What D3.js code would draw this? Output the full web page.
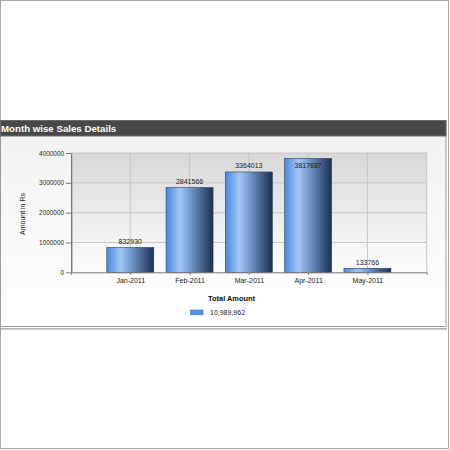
<!DOCTYPE html>
<html>
<head>
<meta charset="utf-8">
<script src="https://cdn.jsdelivr.net/npm/d3@7"></script>
<style>
  body { margin: 0; background: #fff; }
  svg { display: block; font-family: "Liberation Sans", Arial, sans-serif; }
</style>
</head>
<body>
<svg id="chart" width="450" height="450"></svg>
<script>
const months = ['Jan-2011', 'Feb-2011', 'Mar-2011', 'Apr-2011', 'May-2011'];
const amounts = [832930, 2841566, 3364013, 3817687, 133766];
const yTicks = [0, 1000000, 2000000, 3000000, 4000000];
const chartTitle = 'Month wise Sales Details';
const yLabel = 'Amount in Rs';
const legendTitle = 'Total Amount';
const legendValue = '10,989,962';

const svg = d3.select('#chart');
const defs = svg.append('defs');

const panelGrad = defs.append('linearGradient').attr('id', 'panel-bg').attr('x1', 0).attr('y1', 0).attr('x2', 0).attr('y2', 1);
panelGrad.append('stop').attr('offset', '0%').attr('stop-color', '#f1f1f1');
panelGrad.append('stop').attr('offset', '100%').attr('stop-color', '#ffffff');

const plotGrad = defs.append('linearGradient').attr('id', 'plot-bg').attr('x1', 0).attr('y1', 0).attr('x2', 0).attr('y2', 1);
plotGrad.append('stop').attr('offset', '0%').attr('stop-color', '#d8d8d8');
plotGrad.append('stop').attr('offset', '100%').attr('stop-color', '#fdfdfd');

const barGrad = defs.append('linearGradient').attr('id', 'bar-fill').attr('x1', 0).attr('y1', 0).attr('x2', 1).attr('y2', 0);
[['0%', '#4a88df'], ['30%', '#a3c7f4'], ['55%', '#6c91c4'], ['100%', '#1b3050']].forEach(([o, c]) => {
  barGrad.append('stop').attr('offset', o).attr('stop-color', c);
});

// outer frame
svg.append('rect').attr('x', 0.5).attr('y', 0.5).attr('width', 448).attr('height', 448)
  .attr('fill', 'none').attr('stroke', '#a8a8a8');

// panel
svg.append('rect').attr('x', 0.5).attr('y', 120.5).attr('width', 445.5).attr('height', 206)
  .attr('fill', 'url(#panel-bg)').attr('stroke', '#9a9a9a');
svg.append('line').attr('x1', 0).attr('x2', 447).attr('y1', 328.8).attr('y2', 328.8)
  .attr('stroke', '#9a9a9a').attr('stroke-width', 1.2);
svg.append('rect').attr('x', 0.5).attr('y', 120.5).attr('width', 445.5).attr('height', 15.5)
  .attr('fill', '#484848').attr('stroke', '#6a6a6a');
svg.append('text').attr('x', 1).attr('y', 132).attr('fill', '#fff')
  .attr('font-size', '9.7px').attr('font-weight', 'bold').text(chartTitle);

const plot = { left: 71, right: 426.7, top: 153, bottom: 272.3 };
const x = d3.scalePoint().domain(months).range([plot.left, plot.right]).padding(1);
const y = d3.scaleLinear().domain([0, 4000000]).range([plot.bottom, plot.top]);

svg.append('rect').attr('x', plot.left).attr('y', plot.top)
  .attr('width', plot.right - plot.left).attr('height', plot.bottom - plot.top)
  .attr('fill', 'url(#plot-bg)');

const grid = svg.append('g').attr('stroke', '#c6c6c6').attr('stroke-width', 1);
grid.selectAll('line.h').data(yTicks.slice(1)).join('line').attr('class', 'h')
  .attr('x1', plot.left).attr('x2', plot.right).attr('y1', d => y(d)).attr('y2', d => y(d));
grid.selectAll('line.v').data(months).join('line').attr('class', 'v')
  .attr('x1', d => x(d)).attr('x2', d => x(d)).attr('y1', plot.top).attr('y2', plot.bottom);
grid.append('line').attr('x1', plot.right).attr('x2', plot.right).attr('y1', plot.top).attr('y2', plot.bottom);

// shaded left edge
svg.append('rect').attr('x', plot.left).attr('y', plot.top).attr('width', 2)
  .attr('height', plot.bottom - plot.top).attr('fill', '#c0c0c0');

const barWidth = 47;
svg.append('g').selectAll('rect').data(amounts).join('rect')
  .attr('x', (d, i) => x(months[i]) - barWidth / 2)
  .attr('y', d => y(d))
  .attr('width', barWidth)
  .attr('height', d => y(0) - y(d))
  .attr('fill', 'url(#bar-fill)')
  .attr('stroke', '#27405f').attr('stroke-width', 0.6);

svg.append('g').selectAll('text').data(amounts).join('text')
  .attr('x', (d, i) => x(months[i]))
  .attr('y', d => (y(d) - 11 < plot.top ? y(d) + 9.5 : y(d) - 3.5))
  .attr('text-anchor', 'middle').attr('font-size', '7px').attr('fill', '#1a1a1a')
  .text(d => d);

const yAxis = svg.append('g').attr('transform', `translate(${plot.left},0)`)
  .call(d3.axisLeft(y).tickValues(yTicks).tickSize(5).tickSizeOuter(0).tickPadding(2).tickFormat(d3.format('d')));
yAxis.selectAll('path, line').attr('stroke', '#777');
yAxis.selectAll('text').attr('font-size', '6.4px').attr('fill', '#1a1a1a').attr('font-family', null);

const xAxis = svg.append('g').attr('transform', `translate(0,${plot.bottom})`)
  .call(d3.axisBottom(x).tickSize(2.5).tickSizeOuter(2.5).tickPadding(3));
xAxis.selectAll('path, line').attr('stroke', '#777');
xAxis.selectAll('text').attr('font-size', '7px').attr('fill', '#1a1a1a').attr('font-family', null);

svg.append('text').attr('transform', 'translate(25,214) rotate(-90)')
  .attr('text-anchor', 'middle').attr('font-size', '7px').attr('fill', '#1a1a1a').text(yLabel);

// legend
svg.append('text').attr('x', 231.5).attr('y', 300.5).attr('text-anchor', 'middle')
  .attr('font-size', '7.4px').attr('font-weight', 'bold').attr('fill', '#111').text(legendTitle);
svg.append('rect').attr('x', 190.5).attr('y', 310).attr('width', 12.5).attr('height', 4.8)
  .attr('fill', '#5492ea').attr('stroke', '#3b6fb8').attr('stroke-width', 0.6);
svg.append('text').attr('x', 210).attr('y', 314.8).attr('font-size', '7px').attr('fill', '#1a1a1a')
  .text(legendValue);
</script>
</body>
</html>
